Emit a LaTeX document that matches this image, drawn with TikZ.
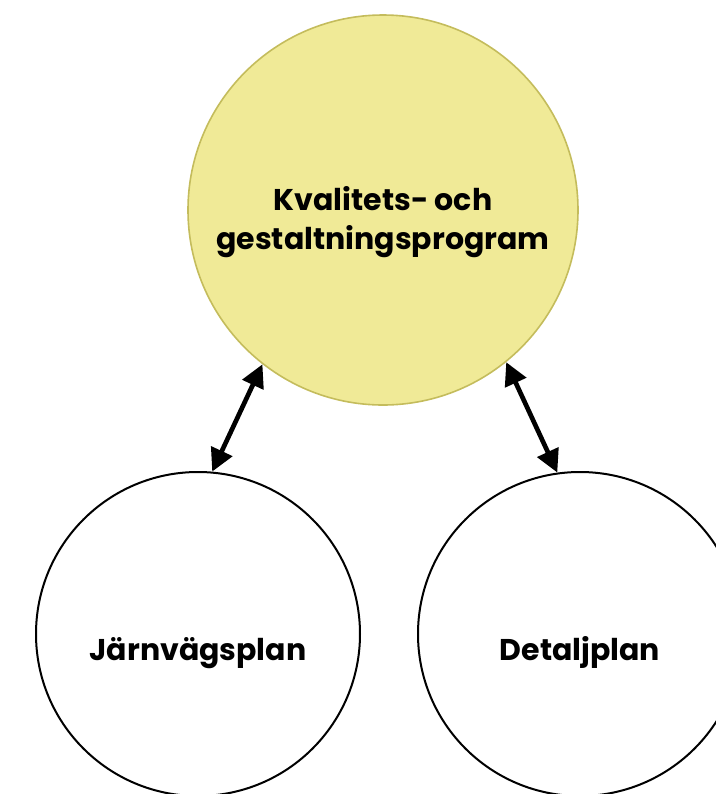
\documentclass[tikz,border=0pt]{standalone}
\usepackage{fontspec}
\setmainfont{Poppins}
\usetikzlibrary{arrows.meta}
\definecolor{kgpfill}{RGB}{240,234,151}
\definecolor{kgpline}{RGB}{196,188,92}

\begin{document}
\begin{tikzpicture}[x=0.75pt,y=-0.75pt,>={Triangle[length=17pt,width=17pt]},
  main node/.style={circle,draw,line width=1.5pt,fill=white,inner sep=0pt,align=center,
    font=\bfseries\fontsize{22.5}{29}\selectfont,minimum size=243pt,
    text height=39pt,text depth=0pt},
  prog node/.style={main node,fill=kgpfill,draw=kgpline,line width=1.2pt,minimum size=292.5pt,
    text height=58.5pt}]

  \useasboundingbox (0,0) rectangle (716,794);
  \clip (0,0) rectangle (716,794);

  \node[prog node] (1) at (383,210) {Kvalitets- och\\gestaltningsprogram};
  \node[main node] (2) at (198,634) {Järnvägsplan};
  \node[main node] (3) at (580,634) {Detaljplan};

  \draw[<->,line width=3.5pt] (1.232) -- (2.85);
  \draw[<->,line width=3.5pt] (1.309) -- (3.98);

\end{tikzpicture}
\end{document}
